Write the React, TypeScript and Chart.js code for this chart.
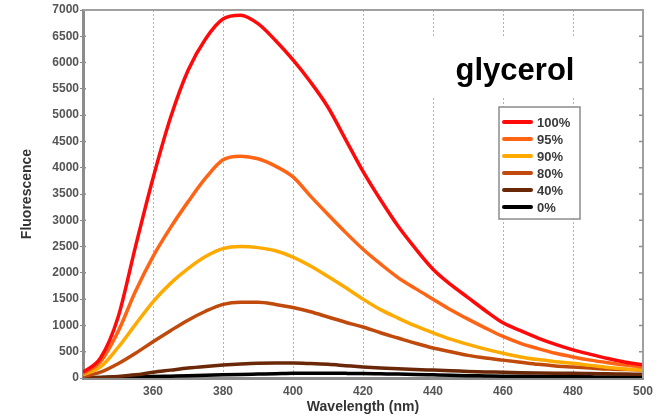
import React, { useEffect, useRef } from "react";
import { Chart, registerables } from "chart.js";

Chart.register(...registerables);

const wavelengths = [340, 345, 350, 355, 360, 365, 370, 375, 380, 385, 390, 395, 400, 405, 410, 415, 420, 425, 430, 435, 440, 445, 450, 455, 460, 465, 470, 475, 480, 485, 490, 495, 500];

const glycerol100 = [110, 380, 1150, 2500, 3800, 4950, 5850, 6450, 6830, 6900, 6740, 6420, 6050, 5630, 5150, 4540, 3930, 3390, 2890, 2460, 2070, 1780, 1530, 1280, 1050, 900, 760, 640, 535, 450, 370, 300, 250];
const glycerol95 = [80, 310, 880, 1650, 2310, 2860, 3350, 3800, 4150, 4220, 4170, 4030, 3825, 3460, 3110, 2770, 2450, 2170, 1910, 1700, 1500, 1300, 1120, 950, 790, 660, 560, 470, 400, 340, 290, 245, 210];
const glycerol90 = [60, 210, 580, 1020, 1450, 1800, 2080, 2310, 2460, 2500, 2480, 2420, 2300, 2130, 1930, 1720, 1500, 1300, 1140, 990, 860, 740, 640, 550, 470, 400, 350, 310, 280, 240, 200, 170, 150];
const glycerol80 = [30, 110, 270, 470, 690, 900, 1100, 1270, 1400, 1440, 1440, 1400, 1340, 1260, 1160, 1060, 970, 860, 760, 660, 570, 500, 430, 380, 340, 300, 260, 230, 210, 190, 170, 160, 150];
const glycerol40 = [0, 10, 30, 60, 110, 150, 190, 220, 245, 265, 280, 285, 285, 275, 260, 235, 210, 190, 175, 160, 150, 140, 125, 115, 110, 100, 95, 92, 90, 85, 80, 75, 70];
const glycerol0 = [5, 10, 15, 20, 28, 35, 42, 50, 60, 68, 75, 82, 90, 90, 90, 88, 85, 80, 75, 68, 60, 52, 45, 40, 35, 32, 30, 27, 25, 22, 20, 20, 20];

const seriesLabels = ["100%", "95%", "90%", "80%", "40%", "0%"];
const seriesColors = ["#ff0a0a", "#ff6414", "#ffaa00", "#c04a0c", "#6a2808", "#000000"];
const seriesValues = [glycerol100, glycerol95, glycerol90, glycerol80, glycerol40, glycerol0];

const yTicks = [0, 500, 1000, 1500, 2000, 2500, 3000, 3500, 4000, 4500, 5000, 5500, 6000, 6500, 7000];
const xTicks = [340, 360, 380, 400, 420, 440, 460, 480, 500];

const FONT = "'Liberation Sans', Arial, sans-serif";

const framePlugin = {
  id: "frame",
  afterDatasetsDraw(chart: any) {
    const { ctx, chartArea, scales } = chart;
    const { left, right, top, bottom } = chartArea;
    ctx.save();
    ctx.strokeStyle = "#a0a0a0";
    ctx.lineWidth = 2;
    ctx.beginPath();
    ctx.moveTo(left, top);
    ctx.lineTo(right, top);
    ctx.lineTo(right, bottom);
    ctx.stroke();
    ctx.lineWidth = 1.5;
    ctx.strokeStyle = "#909090";
    ctx.beginPath();
    for (const v of yTicks) {
      if (v === 0 || v === 7000) continue;
      const py = scales.y.getPixelForValue(v);
      ctx.moveTo(right, py);
      ctx.lineTo(right - 4, py);
      ctx.moveTo(left, py);
      ctx.lineTo(left + 3, py);
    }
    ctx.stroke();
    ctx.restore();
  },
  afterDraw(chart: any) {
    const { ctx } = chart;
    ctx.save();
    ctx.fillStyle = "#ffffff";
    ctx.fillRect(433, 38, 200, 59);
    ctx.fillStyle = "#000000";
    ctx.font = `bold 31px ${FONT}`;
    ctx.textAlign = "center";
    ctx.textBaseline = "alphabetic";
    ctx.fillText("glycerol", 515, 80);
    const bx = 499, by = 107, bw = 81, bh = 112;
    ctx.fillStyle = "#ffffff";
    ctx.fillRect(bx, by, bw, bh);
    ctx.strokeStyle = "#8c8c8c";
    ctx.lineWidth = 1.5;
    ctx.strokeRect(bx, by, bw, bh);
    ctx.font = `bold 13px ${FONT}`;
    ctx.textAlign = "left";
    ctx.textBaseline = "middle";
    seriesLabels.forEach((lab, i) => {
      const ry = 122 + i * 17;
      ctx.strokeStyle = seriesColors[i];
      ctx.lineWidth = 4;
      ctx.lineCap = "round";
      ctx.beginPath();
      ctx.moveTo(504, ry);
      ctx.lineTo(531, ry);
      ctx.stroke();
      ctx.fillStyle = "#3a3a3a";
      ctx.fillText(lab, 537, ry + 1);
    });
    ctx.restore();
  },
};

export default function App() {
  const ref = useRef<HTMLCanvasElement>(null);
  useEffect(() => {
    if (!ref.current) return;
    const datasets = seriesValues.map((vals, i) => ({
      label: seriesLabels[i],
      data: vals.map((v, j) => ({ x: wavelengths[j], y: v })),
      borderColor: seriesColors[i],
      backgroundColor: seriesColors[i],
      borderWidth: 3.5,
      pointRadius: 0,
      cubicInterpolationMode: "monotone" as const,
      fill: false,
    }));
    const chart = new Chart(ref.current, {
      type: "line",
      data: { datasets },
      plugins: [framePlugin],
      options: {
        animation: false,
        responsive: false,
        devicePixelRatio: 1,
        layout: { padding: { top: 10, right: 20, left: 0, bottom: 0 } },
        plugins: { legend: { display: false }, tooltip: { enabled: false } },
        scales: {
          x: {
            type: "linear",
            min: 340,
            max: 500,
            afterFit: (s: any) => { s.height = 39; },
            afterBuildTicks: (s: any) => { s.ticks = xTicks.map((v) => ({ value: v })); },
            ticks: {
              callback: (v: any) => (v === 340 ? "" : String(v)),
              color: "#555555",
              font: { family: FONT, size: 12, weight: "bold" },
              padding: 6,
              maxRotation: 0,
            },
            grid: {
              drawTicks: false,
              lineWidth: 1,
              color: (c: any) => (c.tick && (c.tick.value === 340 || c.tick.value === 500) ? "rgba(0,0,0,0)" : "#b4b4b4"),
            },
            border: { display: true, color: "#8c8c8c", width: 3, dash: [2, 2] },
            title: {
              display: true,
              text: "Wavelength (nm)",
              color: "#333333",
              font: { family: FONT, size: 14, weight: "bold" },
              padding: { top: 0, bottom: 1 },
            },
          },
          y: {
            type: "linear",
            min: 0,
            max: 7000,
            afterFit: (s: any) => { s.width = 83; },
            afterBuildTicks: (s: any) => { s.ticks = yTicks.map((v) => ({ value: v })); },
            ticks: {
              callback: (v: any) => String(v),
              color: "#555555",
              font: { family: FONT, size: 12, weight: "bold" },
              padding: 1,
            },
            grid: { drawOnChartArea: false, drawTicks: true, tickLength: 3, color: "#888888" },
            border: { display: true, color: "#8c8c8c", width: 3 },
            title: {
              display: true,
              text: "Fluorescence",
              color: "#333333",
              font: { family: FONT, size: 14, weight: "bold" },
              padding: { top: 19, bottom: 0 },
            },
          },
        },
      },
    });
    return () => chart.destroy();
  }, []);
  return (
    <div style={{ position: "fixed", left: 0, top: 0, width: 663, height: 417, background: "#ffffff" }}>
      <canvas ref={ref} width={663} height={417} style={{ width: 663, height: 417, display: "block" }} />
    </div>
  );
}
